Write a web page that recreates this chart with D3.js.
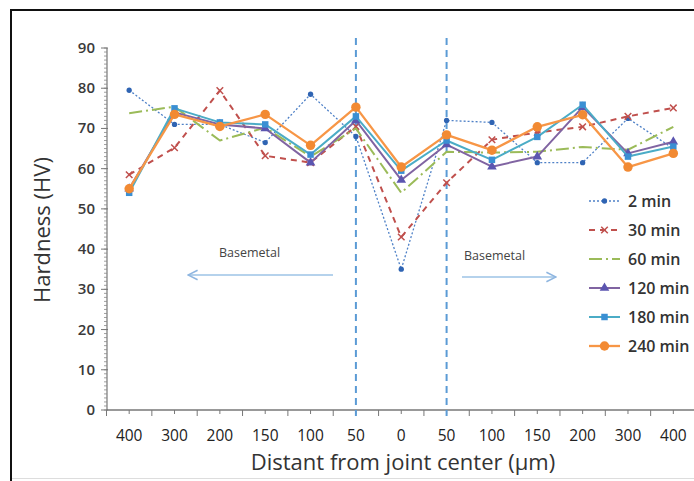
<!DOCTYPE html>
<html><head><meta charset="utf-8">
<script src="https://cdn.jsdelivr.net/npm/d3@7"></script>
<style>html,body{margin:0;padding:0;background:#fff;overflow:hidden}</style>
</head><body>
<svg id="chart" width="694" height="481"></svg>
<script>
const categories = ["400","300","200","150","100","50","0","50","100","150","200","300","400"];
const yTicks = [0,10,20,30,40,50,60,70,80,90];
const seriesNames = ["2 min","30 min","60 min","120 min","180 min","240 min"];
const min2   = [79.5,71,71,66.5,78.5,68,35,72,71.5,61.5,61.5,72.5,65];
const min30  = [58.5,65.2,79.4,63.2,61.5,70.5,43,56.5,67.2,69,70.4,73,75.1];
const min60  = [73.8,75.4,67,70.2,63,70,54,64.2,64,64.2,65.4,64.7,70.4];
const min120 = [55,74,71,70,61.5,72,57.2,66,60.5,63,75.3,63.8,66.7];
const min180 = [54,75,71.5,71,63.5,73,59.5,67,62.2,67.9,75.9,63,65.5];
const min240 = [55,73.5,70.5,73.5,65.8,75.3,60.4,68.4,64.6,70.4,73.4,60.4,63.8];
const seriesValues = [min2,min30,min60,min120,min180,min240];
const dividers = [5,7];
const annotationText = "Basemetal";

const styles = [
  {color:"#4F81C7", width:1.3, dash:"2,2", marker:"circle", mfill:"#2F64B3", msize:22},
  {color:"#C0504D", width:2, dash:"6,5", marker:"times", mfill:"#C0504D", msize:30},
  {color:"#9BBB59", width:2, dash:"13,4,2,4", marker:null},
  {color:"#8064A2", width:2, dash:null, marker:"triangle", mfill:"#5B55B0", msize:40},
  {color:"#4BACC6", width:2, dash:null, marker:"square", mfill:"#3A8FD3", msize:42},
  {color:"#F79646", width:2.3, dash:null, marker:"circle", mfill:"#F28A33", msize:70}
];

const svg = d3.select("#chart");
const font = "'Open Sans', 'Liberation Sans', sans-serif";

// frame
svg.append("line").attr("x1",11).attr("x2",11).attr("y1",9).attr("y2",481).attr("stroke","#111").attr("stroke-width",2);
svg.append("line").attr("x1",10).attr("x2",694).attr("y1",10).attr("y2",10).attr("stroke","#111").attr("stroke-width",2);
svg.append("line").attr("x1",12).attr("x2",694).attr("y1",478.5).attr("y2",478.5).attr("stroke","#ddd").attr("stroke-width",1);

const x = d3.scaleBand().domain(d3.range(categories.length)).range([106.5, 696]);
const xc = i => x(i) + x.bandwidth()/2;
const y = d3.scaleLinear().domain([0,90]).range([410,48]);

// y axis
const gy = svg.append("g").attr("transform","translate(107,0)");
gy.append("line").attr("y1",y(0)).attr("y2",y(90)).attr("stroke","#777").attr("stroke-width",1.2);
gy.selectAll("line.minor").data(d3.range(0,91,1)).join("line")
  .attr("x1",-3).attr("x2",0).attr("y1",d=>y(d)).attr("y2",d=>y(d)).attr("stroke","#888").attr("stroke-width",0.8);
gy.selectAll("line.major").data(yTicks).join("line")
  .attr("x1",-6).attr("x2",1).attr("y1",d=>y(d)).attr("y2",d=>y(d)).attr("stroke","#777").attr("stroke-width",1);
gy.selectAll("text").data(yTicks).join("text")
  .attr("x",-12).attr("y",d=>y(d)+5).attr("text-anchor","end")
  .attr("font-family",font).attr("font-size",15).attr("font-weight",600).attr("fill","#3a3a3a").text(d=>d);

// x axis
const gx = svg.append("g");
gx.append("line").attr("x1",106.5).attr("x2",694).attr("y1",410).attr("y2",410).attr("stroke","#777").attr("stroke-width",1.4);
gx.selectAll("line.b").data(d3.range(categories.length+1)).join("line")
  .attr("x1",i=>106.5+i*x.step()).attr("x2",i=>106.5+i*x.step()).attr("y1",410).attr("y2",416).attr("stroke","#777");
gx.selectAll("line.c").data(d3.range(categories.length)).join("line")
  .attr("x1",i=>xc(i)).attr("x2",i=>xc(i)).attr("y1",410).attr("y2",414).attr("stroke","#777");
gx.selectAll("text").data(categories).join("text")
  .attr("x",(d,i)=>xc(i)).attr("y",441).attr("text-anchor","middle")
  .attr("font-family",font).attr("font-size",15.5).attr("fill","#222").text(d=>d);

// axis titles
svg.append("text").attr("x",403).attr("y",470).attr("text-anchor","middle")
  .attr("font-family",font).attr("font-size",22).attr("fill","#333").text("Distant from joint center  (µm)");
svg.append("text").attr("transform","translate(50,230) rotate(-90)").attr("text-anchor","middle")
  .attr("font-family",font).attr("font-size",22).attr("fill","#333").text("Hardness (HV)");

// divider dashed lines
svg.selectAll("line.div").data(dividers).join("line")
  .attr("x1",d=>xc(d)).attr("x2",d=>xc(d)).attr("y1",38).attr("y2",416)
  .attr("stroke","#5B9BD5").attr("stroke-width",2).attr("stroke-dasharray","7,5");

// annotations
const defs = svg.append("defs");
defs.append("marker").attr("id","arr").attr("viewBox","0 0 10 10").attr("refX",9).attr("refY",5)
  .attr("markerWidth",8).attr("markerHeight",8).attr("orient","auto-start-reverse")
  .append("path").attr("d","M1,1 L9,5 L1,9").attr("fill","none").attr("stroke","#8FB6E0").attr("stroke-width",1.3);
svg.append("line").attr("x1",333).attr("x2",188).attr("y1",275).attr("y2",275).attr("stroke","#9DC3E6").attr("stroke-width",1.5).attr("marker-end","url(#arr)");
svg.append("line").attr("x1",462).attr("x2",556).attr("y1",277).attr("y2",277).attr("stroke","#9DC3E6").attr("stroke-width",1.5).attr("marker-end","url(#arr)");
svg.append("text").attr("x",219).attr("y",257).attr("font-family",font).attr("font-size",12.5).attr("fill","#444").text(annotationText);
svg.append("text").attr("x",464).attr("y",260).attr("font-family",font).attr("font-size",12.5).attr("fill","#444").text(annotationText);

// series
const symMap = {circle:d3.symbolCircle, times:d3.symbolTimes, triangle:d3.symbolTriangle, square:d3.symbolSquare};
const line = d3.line().x((d,i)=>xc(i)).y(d=>y(d));
seriesValues.forEach((vals,k)=>{
  const s = styles[k];
  const g = svg.append("g");
  g.append("path").datum(vals).attr("d",line).attr("fill","none").attr("stroke",s.color)
    .attr("stroke-width",s.width).attr("stroke-dasharray",s.dash).attr("stroke-linejoin","round");
  if (s.marker) {
    const sym = d3.symbol().type(symMap[s.marker]).size(s.msize);
    g.selectAll("path.m").data(vals).join("path")
      .attr("transform",(d,i)=>`translate(${xc(i)},${y(d)})`).attr("d",sym)
      .attr("fill", s.marker==="times" ? "none" : s.mfill)
      .attr("stroke", s.marker==="times" ? s.mfill : "none").attr("stroke-width",1.5);
  }
});

// legend
const lg = svg.append("g");
seriesNames.forEach((name,k)=>{
  const s = styles[k];
  const yy = 201 + k*29;
  lg.append("line").attr("x1",589).attr("x2",620).attr("y1",yy).attr("y2",yy).attr("stroke",s.color)
    .attr("stroke-width",s.width).attr("stroke-dasharray",s.dash);
  if (s.marker) {
    const sym = d3.symbol().type(symMap[s.marker]).size(s.msize);
    lg.append("path").attr("transform",`translate(604.5,${yy})`).attr("d",sym)
      .attr("fill", s.marker==="times" ? "none" : s.mfill)
      .attr("stroke", s.marker==="times" ? s.mfill : "none").attr("stroke-width",1.5);
  }
  lg.append("text").attr("x",628).attr("y",yy+6).attr("font-family",font).attr("font-size",16).attr("font-weight",600).attr("fill","#333").text(name);
});
</script>
</body></html>
